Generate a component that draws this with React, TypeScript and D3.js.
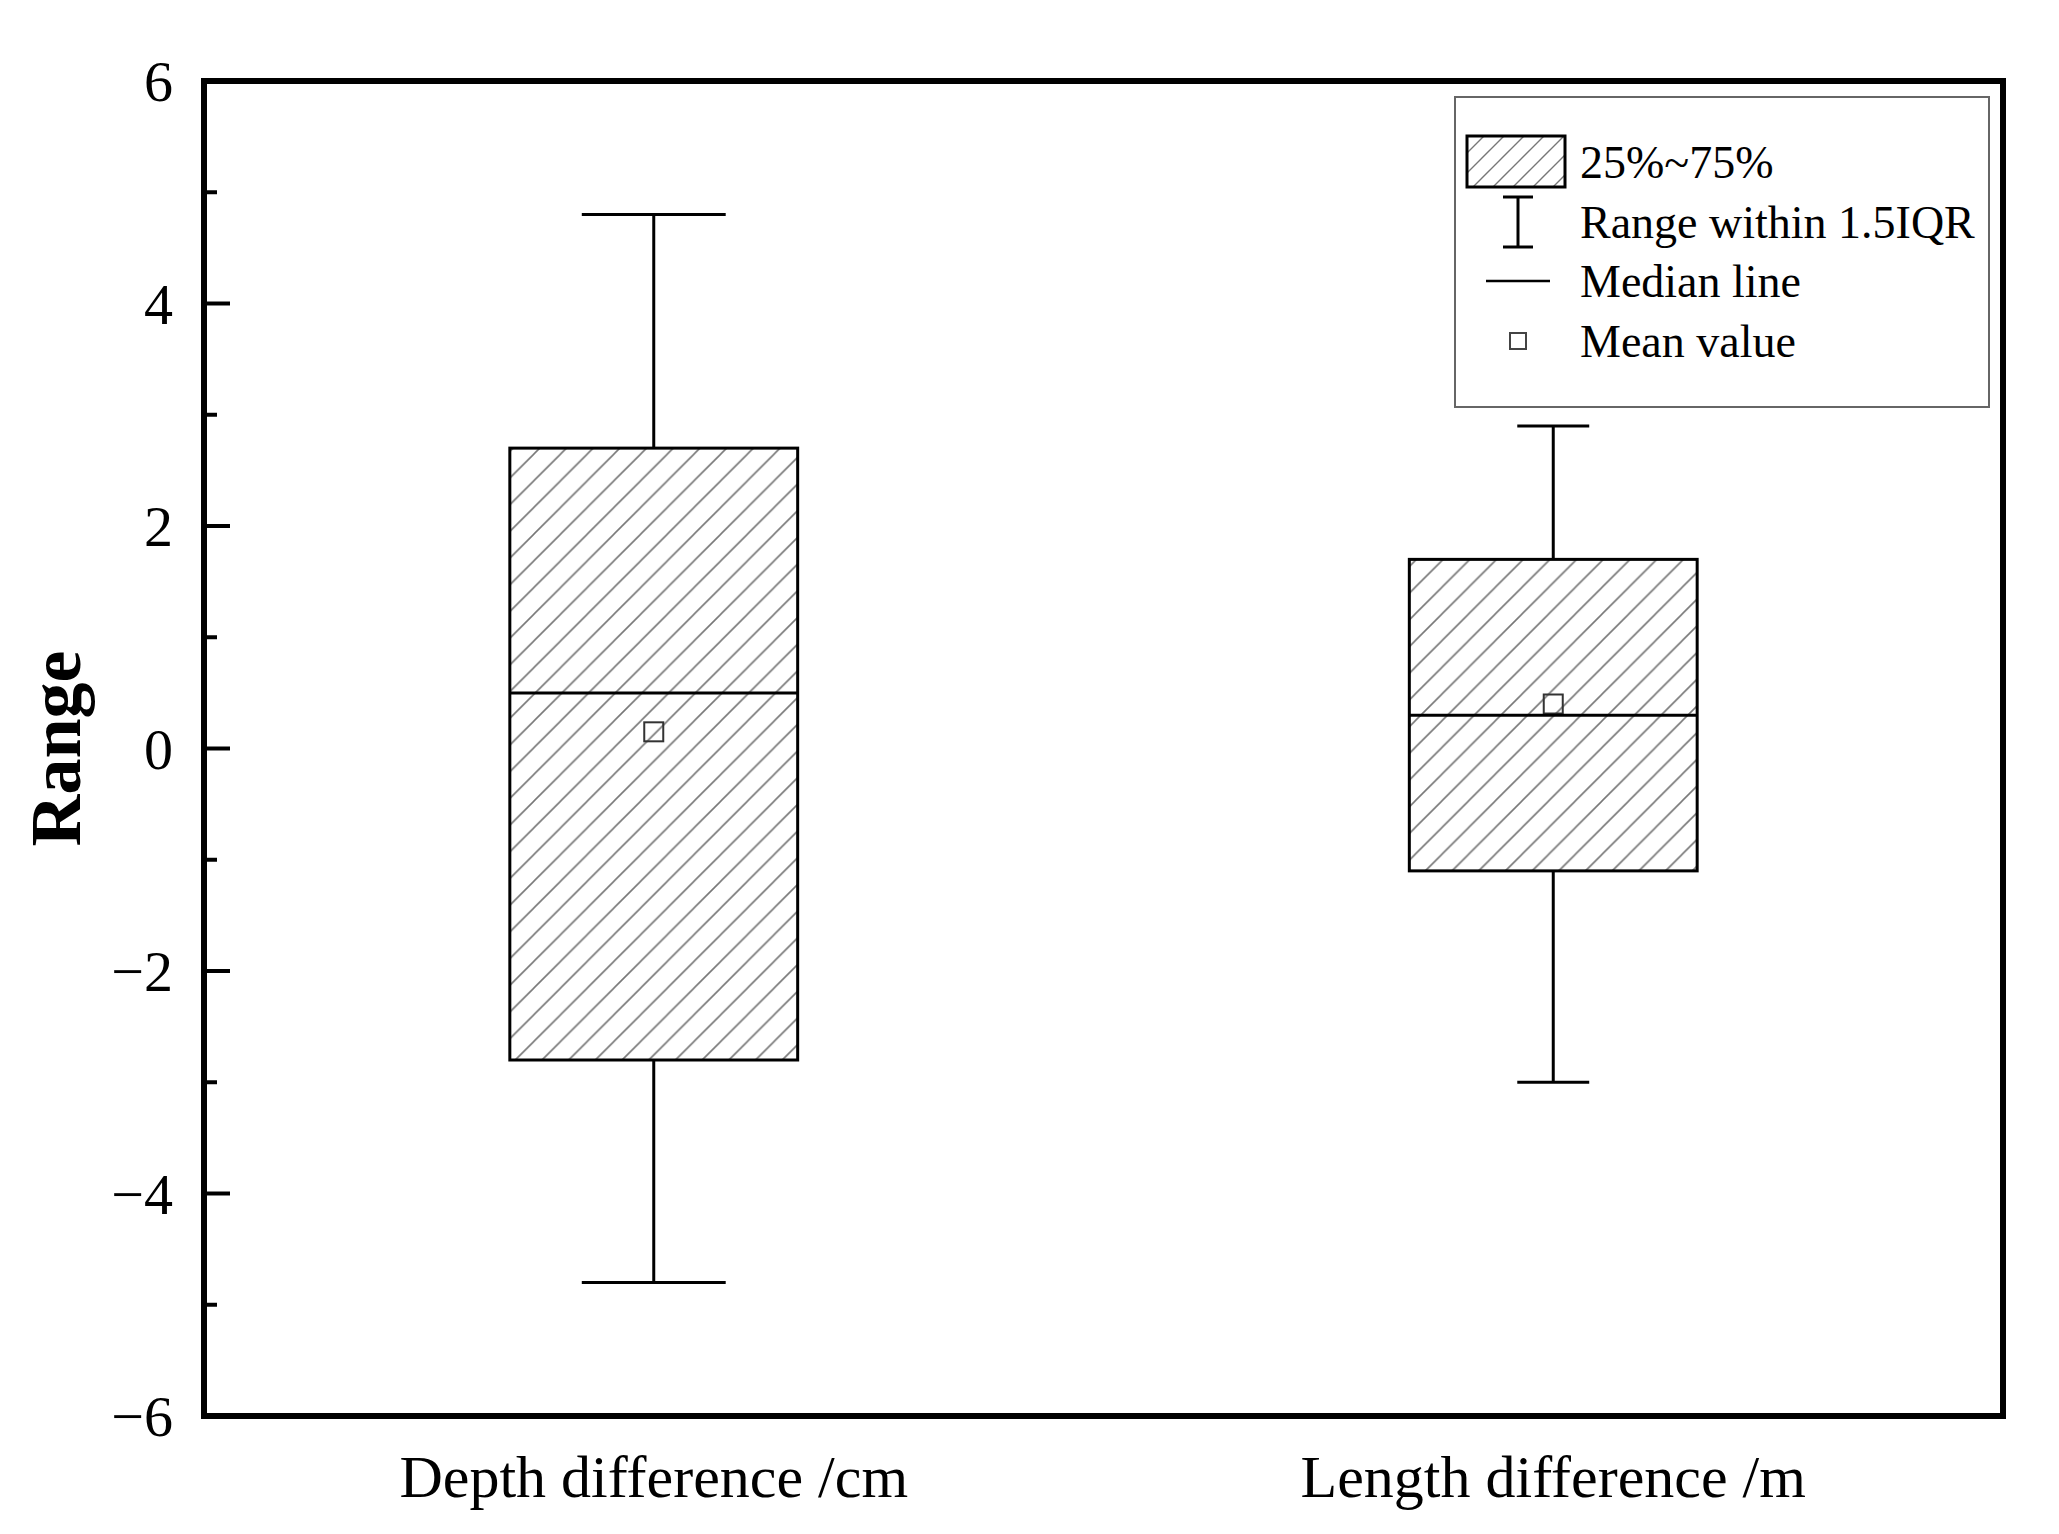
import React from 'react';
import * as d3 from 'd3';

// box plot values
const categories = ['Depth difference /cm', 'Length difference /m'];
const q1 = [-2.8, -1.1];
const q3 = [2.7, 1.7];
const medians = [0.5, 0.3];
const means = [0.15, 0.4];
const whiskerLow = [-4.8, -3.0];
const whiskerHigh = [4.8, 2.9];

const majorTicks = [-6, -4, -2, 0, 2, 4, 6];
const minorTicks = [-5, -3, -1, 1, 3, 5];
const legendLabels = ['25%~75%', 'Range within 1.5IQR', 'Median line', 'Mean value'];

const W = 2059, H = 1534;
const left = 204, right = 2003, top = 81, bottom = 1416;
const font = '"Liberation Serif", "Times New Roman", serif';
// cap widths differ between the two boxes in the original
const capFrac = [0.5, 0.25];

export default function App() {
    const x = d3.scalePoint<string>().domain(categories).range([left, right]).padding(0.5);
    const y = d3.scaleLinear().domain([-6, 6]).range([bottom, top]);
    const boxW = x.step() * 0.32;

    //hatch pattern path for a square tile of size s
    const hatch = (s: number) => `M0,${s} L${s},0 M${-s / 4},${s / 4} L${s / 4},${-s / 4} M${s * 0.75},${s * 1.25} L${s * 1.25},${s * 0.75}`;

    const lx = 1518; // legend symbol center
    const ly = [162, 222, 281, 341];

    return (
        <svg width={W} height={H} style={{position: 'absolute', left: 0, top: 0, background: '#fff'}}
             fontFamily={font}>
            <defs>
                <pattern id="hatch" patternUnits="userSpaceOnUse" width={26.7} height={26.7}>
                    <path d={hatch(26.7)} stroke="#777" strokeWidth={1.6} />
                </pattern>
                <pattern id="hatchSmall" patternUnits="userSpaceOnUse" width={20} height={20}>
                    <path d={hatch(20)} stroke="#777" strokeWidth={1.4} />
                </pattern>
            </defs>
            <rect x={0} y={0} width={W} height={H} fill="#fff" />

            {categories.map((c, i) => {
                const cx = x(c) as number;
                const capW = boxW * capFrac[i];
                return (
                    <g key={c}>
                        <line x1={cx} x2={cx} y1={y(whiskerHigh[i])} y2={y(q3[i])} stroke="#000" strokeWidth={3} />
                        <line x1={cx} x2={cx} y1={y(q1[i])} y2={y(whiskerLow[i])} stroke="#000" strokeWidth={3} />
                        <line x1={cx - capW / 2} x2={cx + capW / 2} y1={y(whiskerHigh[i])} y2={y(whiskerHigh[i])} stroke="#000" strokeWidth={3} />
                        <line x1={cx - capW / 2} x2={cx + capW / 2} y1={y(whiskerLow[i])} y2={y(whiskerLow[i])} stroke="#000" strokeWidth={3} />
                        <rect x={cx - boxW / 2} y={y(q3[i])} width={boxW} height={y(q1[i]) - y(q3[i])}
                              fill="url(#hatch)" stroke="#000" strokeWidth={3} />
                        <rect x={cx - 9.5} y={y(means[i]) - 9.5} width={19} height={19} fill="none" stroke="#333" strokeWidth={2} />
                        <line x1={cx - boxW / 2} x2={cx + boxW / 2} y1={y(medians[i])} y2={y(medians[i])} stroke="#000" strokeWidth={3} />
                        <text x={cx} y={1497} textAnchor="middle" fontSize={60}>{c}</text>
                    </g>
                );
            })}

            {/* y ticks, inward */}
            {majorTicks.map(t => (
                <g key={'M' + t}>
                    <line x1={left} x2={left + 26} y1={y(t)} y2={y(t)} stroke="#000" strokeWidth={4} />
                    <text x={173} y={y(t)} dy="0.35em" textAnchor="end" fontSize={58}>
                        {t < 0 ? '\u2212' + Math.abs(t) : t}
                    </text>
                </g>
            ))}
            {minorTicks.map(t => (
                <line key={'m' + t} x1={left} x2={left + 13} y1={y(t)} y2={y(t)} stroke="#000" strokeWidth={4} />
            ))}

            <rect x={left} y={top} width={right - left} height={bottom - top} fill="none" stroke="#000" strokeWidth={6} />

            <text transform={`translate(80,${(top + bottom) / 2}) rotate(-90)`} textAnchor="middle"
                  fontSize={72} fontWeight="bold">Range</text>

            {/* legend */}
            <rect x={1455} y={97} width={534} height={310} fill="#fff" stroke="#666" strokeWidth={2} />
            <rect x={1467} y={136} width={98} height={51} fill="url(#hatchSmall)" stroke="#000" strokeWidth={3} />
            <line x1={lx} x2={lx} y1={ly[1] - 25} y2={ly[1] + 25} stroke="#000" strokeWidth={3} />
            <line x1={lx - 15} x2={lx + 15} y1={ly[1] - 25} y2={ly[1] - 25} stroke="#000" strokeWidth={3} />
            <line x1={lx - 15} x2={lx + 15} y1={ly[1] + 25} y2={ly[1] + 25} stroke="#000" strokeWidth={3} />
            <line x1={lx - 32} x2={lx + 32} y1={ly[2]} y2={ly[2]} stroke="#000" strokeWidth={2.5} />
            <rect x={lx - 8} y={ly[3] - 8} width={16} height={16} fill="none" stroke="#444" strokeWidth={2} />
            {legendLabels.map((l, i) => (
                <text key={l} x={1580} y={ly[i]} dy="0.35em" fontSize={46}>{l}</text>
            ))}
        </svg>
    );
}
